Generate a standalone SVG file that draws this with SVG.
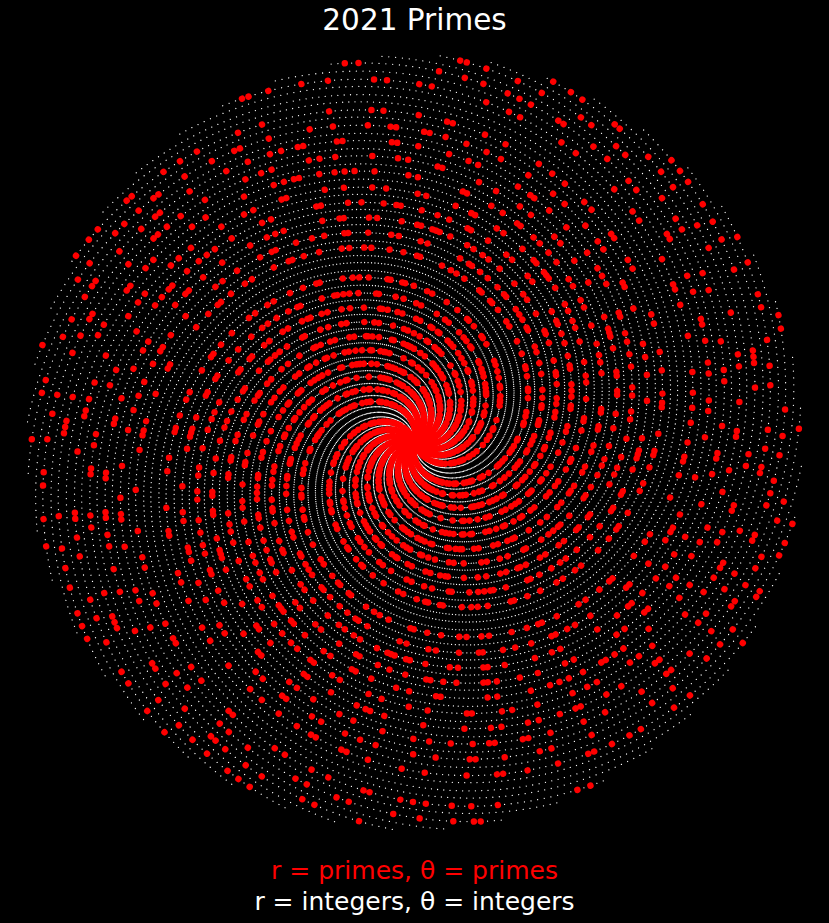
<svg xmlns="http://www.w3.org/2000/svg" xmlns:xlink="http://www.w3.org/1999/xlink" width="829" height="923" viewBox="0 0 829 923">
<style>
text{font-family:"DejaVu Sans","Liberation Sans",sans-serif;text-anchor:middle}
.w{fill:none;stroke:#fff;stroke-width:1.3;stroke-linecap:round;stroke-dasharray:0 1}
.r{fill:none;stroke:#f00;stroke-width:6.5;stroke-linecap:round}
.d1{stroke-dasharray:0 1 0 2 0 1 0 1 0 3 0 1 0 2 0 2 0 1 0 3}
.d2{stroke-dasharray:0 2 0 1 0 1 0 3 0 2 0 1 0 2 0 1 0 3 0 1}
.d3{stroke-dasharray:0 1 0 3 0 2 0 1 0 1 0 2 0 1 0 3 0 1 0 2}
.i1{stroke-dasharray:0 2 0 4 0 1 0 3 0 5 0 2 0 3 0 1 0 6}
.i2{stroke-dasharray:0 3 0 1 0 5 0 2 0 2 0 4 0 6 0 1 0 3 0 2}
.i3{stroke-dasharray:0 1 0 4 0 3 0 6 0 2 0 1 0 5 0 3 0 2 0 4}
.i4{stroke-dasharray:0 4 0 2 0 2 0 5 0 1 0 3 0 7 0 2 0 3}
.i5{stroke-dasharray:0 2 0 2 0 6 0 1 0 4 0 3 0 2 0 5 0 1 0 3 0 4}
.i6{stroke-dasharray:0 5 0 1 0 2 0 3 0 4 0 2 0 1 0 6 0 3 0 2}
.m1{stroke-dasharray:0 4 0 2 0 5 0 1 0 3 0 6 0 2 0 4 0 3}
.m2{stroke-dasharray:0 3 0 5 0 2 0 4 0 1 0 6 0 3 0 2 0 5}
.m3{stroke-dasharray:0 2 0 6 0 3 0 1 0 4 0 5 0 2 0 3 0 6}
.m4{stroke-dasharray:0 5 0 3 0 1 0 4 0 6 0 2 0 3 0 5 0 2}
.m5{stroke-dasharray:0 1 0 4 0 6 0 3 0 2 0 5 0 4 0 1 0 3 0 6}
.o1{stroke-dasharray:0 3 0 6 0 2 0 4 0 8 0 1 0 5 0 3 0 7 0 2 0 4}
.o2{stroke-dasharray:0 5 0 2 0 7 0 3 0 4 0 1 0 9 0 4 0 2 0 6}
.o3{stroke-dasharray:0 2 0 8 0 4 0 3 0 6 0 5 0 1 0 4 0 7 0 3}
.o4{stroke-dasharray:0 6 0 3 0 1 0 5 0 4 0 9 0 2 0 4 0 3 0 6 0 2}
.o5{stroke-dasharray:0 4 0 4 0 7 0 2 0 5 0 3 0 8 0 1 0 6 0 3}
.o6{stroke-dasharray:0 7 0 2 0 3 0 6 0 1 0 5 0 4 0 8 0 2 0 5 0 3}
.o7{stroke-dasharray:0 3 0 5 0 9 0 2 0 4 0 6 0 1 0 3 0 7 0 4}
</style>
<defs>
<g id="p0">
<path pathLength="10" stroke-dashoffset="0.5" d="M0 0C3.23 0 6.47-.58 9.55-1.71"/>
<path transform="rotate(-10.141)" pathLength="10" stroke-dashoffset="17.5" d="M9.7 0C12.93-.57 16.12-1.72 19.1-3.42"/>
<path transform="rotate(-20.282)" pathLength="10" stroke-dashoffset="5.5" d="M19.4 0C22.63-1.14 25.77-2.86 28.65-5.12"/>
<path transform="rotate(-30.422)" pathLength="10" stroke-dashoffset="29.5" d="M29.1 0C32.33-1.72 35.41-4.01 38.19-6.83"/>
<path transform="rotate(-40.563)" pathLength="10" stroke-dashoffset="11.5" d="M38.8 0C42.03-2.29 45.06-5.15 47.74-8.54"/>
</g>
<g id="pa">
<path transform="rotate(-50.704)" pathLength="10" stroke-dashoffset="23.5" d="M48.5 0C51.73-2.86 54.71-6.3 57.29-10.25"/>
<path transform="rotate(-60.845)" pathLength="10" stroke-dashoffset="3.5" d="M58.2 0C61.43-3.43 64.36-7.44 66.84-11.96"/>
<path transform="rotate(-70.986)" pathLength="10" stroke-dashoffset="31.5" d="M67.9 0C71.13-4.01 74.01-8.59 76.39-13.66"/>
<path transform="rotate(-81.126)" pathLength="10" stroke-dashoffset="14.5" d="M77.6 0C80.83-4.58 83.66-9.73 85.94-15.37"/>
<path transform="rotate(-91.267)" pathLength="10" stroke-dashoffset="8.5" d="M87.3 0C90.53-5.15 93.31-10.88 95.48-17.08"/>
<path transform="rotate(-101.408)" pathLength="10" stroke-dashoffset="26.5" d="M97 0C100.23-5.72 102.96-12.02 105.03-18.79"/>
<path transform="rotate(-111.549)" pathLength="10" stroke-dashoffset="19.5" d="M106.7 0C109.93-6.29 112.61-13.17 114.58-20.49"/>
</g>
<g id="pb">
<path transform="rotate(-121.69)" pathLength="10" stroke-dashoffset="2.5" d="M116.4 0C119.63-6.87 122.26-14.31 124.13-22.2"/>
<path transform="rotate(-131.83)" pathLength="10" stroke-dashoffset="35.5" d="M126.1 0C129.33-7.44 131.91-15.45 133.68-23.91"/>
<path transform="rotate(-141.971)" pathLength="10" stroke-dashoffset="12.5" d="M135.8 0C139.03-8.01 141.56-16.6 143.23-25.62"/>
<path transform="rotate(-152.112)" pathLength="10" stroke-dashoffset="27.5" d="M145.5 0C148.73-8.58 151.21-17.74 152.78-27.33"/>
<path transform="rotate(-162.253)" pathLength="10" stroke-dashoffset="6.5" d="M155.2 0C158.43-9.16 160.85-18.89 162.32-29.03"/>
<path transform="rotate(-172.394)" pathLength="10" stroke-dashoffset="33.5" d="M164.9 0C168.13-9.73 170.5-20.03 171.87-30.74"/>
<path transform="rotate(-182.534)" pathLength="10" stroke-dashoffset="21.5" d="M174.6 0C177.83-10.3 180.15-21.18 181.42-32.45"/>
<path transform="rotate(-192.675)" pathLength="10" stroke-dashoffset="9.5" d="M184.3 0C187.53-10.87 189.8-22.32 190.97-34.16"/>
<path transform="rotate(-202.816)" pathLength="10" stroke-dashoffset="15.5" d="M194 0C197.23-11.45 199.45-23.47 200.52-35.87"/>
<path transform="rotate(-212.957)" pathLength="10" stroke-dashoffset="30.5" d="M203.7 0C206.93-12.02 209.1-24.61 210.07-37.57"/>
<path transform="rotate(-223.098)" pathLength="10" stroke-dashoffset="4.5" d="M213.4 0C216.63-12.59 218.75-25.76 219.61-39.28"/>
<path transform="rotate(-233.238)" pathLength="10" stroke-dashoffset="24.5" d="M223.1 0C226.33-13.16 228.4-26.9 229.16-40.99"/>
<path transform="rotate(-243.379)" pathLength="10" stroke-dashoffset="36.5" d="M232.8 0C236.03-13.73 238.05-28.04 238.71-42.7"/>
</g>
<g id="pc">
<path transform="rotate(-253.52)" pathLength="10" stroke-dashoffset="10.5" d="M242.5 0C245.73-14.31 247.7-29.19 248.26-44.4"/>
<path transform="rotate(-263.661)" pathLength="10" stroke-dashoffset="18.5" d="M252.2 0C255.43-14.88 257.35-30.33 257.81-46.11"/>
<path transform="rotate(-273.802)" pathLength="10" stroke-dashoffset="1.5" d="M261.9 0C265.13-15.45 267-31.48 267.36-47.82"/>
<path transform="rotate(-283.942)" pathLength="10" stroke-dashoffset="28.5" d="M271.6 0C274.83-16.02 276.65-32.62 276.91-49.53"/>
<path transform="rotate(-294.083)" pathLength="10" stroke-dashoffset="13.5" d="M281.3 0C284.53-16.6 286.29-33.77 286.45-51.24"/>
<path transform="rotate(-304.224)" pathLength="10" stroke-dashoffset="34.5" d="M291 0C294.23-17.17 295.94-34.91 296-52.94"/>
<path transform="rotate(-314.365)" pathLength="10" stroke-dashoffset="7.5" d="M300.7 0C303.93-17.74 305.59-36.06 305.55-54.65"/>
<path transform="rotate(-324.506)" pathLength="10" stroke-dashoffset="22.5" d="M310.4 0C313.63-18.31 315.24-37.2 315.1-56.36"/>
<path transform="rotate(-334.646)" pathLength="10" stroke-dashoffset="16.5" d="M320.1 0C323.33-18.88 324.89-38.35 324.65-58.07"/>
<path transform="rotate(-344.787)" pathLength="10" stroke-dashoffset="32.5" d="M329.8 0C333.03-19.46 334.54-39.49 334.2-59.78"/>
<path transform="rotate(-354.928)" pathLength="10" stroke-dashoffset="25.5" d="M339.5 0C342.73-20.03 344.19-40.63 343.74-61.48"/>
<path transform="rotate(-365.069)" pathLength="10" stroke-dashoffset="20.5" d="M349.2 0C352.43-20.6 353.84-41.78 353.29-63.19"/>
<path transform="rotate(-375.21)" pathLength="10" stroke-dashoffset="38.5" d="M358.9 0C362.13-21.17 363.49-42.92 362.84-64.9"/>
<path transform="rotate(-385.35)" pathLength="10" stroke-dashoffset="11.5" d="M368.6 0C371.83-21.75 373.14-44.07 372.39-66.61"/>
<path transform="rotate(-395.491)" pathLength="10" stroke-dashoffset="3.5" d="M378.3 0C381.53-22.32 382.79-45.21 381.94-68.31"/>
</g>
<g id="sp"><use href="#p0"/><use href="#pa"/><use href="#pb"/><use href="#pc"/></g>
</defs>
<rect width="829" height="923" fill="#000"/>
<text x="414.5" y="30" font-size="29.5" fill="#fff">2021 Primes</text>
<g id="integers" class="w" transform="translate(414.5,442.5)">
<use href="#sp"/>
<use href="#sp" transform="rotate(-57.296)"/>
<use href="#sp" transform="rotate(-114.592)"/>
<use href="#sp" transform="rotate(-171.887)"/>
<use href="#sp" transform="rotate(-229.183)"/>
<use href="#sp" transform="rotate(-286.479)"/>
<use href="#sp" transform="rotate(-343.775)"/>
<use href="#sp" transform="rotate(-41.071)"/>
<use href="#sp" transform="rotate(-98.366)"/>
<use href="#sp" transform="rotate(-155.662)"/>
<use href="#sp" transform="rotate(-212.958)"/>
<use href="#sp" transform="rotate(-270.254)"/>
<use href="#sp" transform="rotate(-327.549)"/>
<use href="#sp" transform="rotate(-24.845)"/>
<use href="#sp" transform="rotate(-82.141)"/>
<use href="#sp" transform="rotate(-139.437)"/>
<use href="#sp" transform="rotate(-196.733)"/>
<use href="#sp" transform="rotate(-254.028)"/>
<use href="#sp" transform="rotate(-311.324)"/>
<use href="#sp" transform="rotate(-8.62)"/>
<use href="#sp" transform="rotate(-65.916)"/>
<use href="#sp" transform="rotate(-123.211)"/>
<use href="#sp" transform="rotate(-180.507)"/>
<use href="#sp" transform="rotate(-237.803)"/>
<use href="#sp" transform="rotate(-295.099)"/>
<use href="#sp" transform="rotate(-352.395)"/>
<use href="#sp" transform="rotate(-49.69)"/>
<use href="#sp" transform="rotate(-106.986)"/>
<use href="#sp" transform="rotate(-164.282)"/>
<use href="#sp" transform="rotate(-221.578)"/>
<use href="#sp" transform="rotate(-278.873)"/>
<use href="#sp" transform="rotate(-336.169)"/>
<use href="#sp" transform="rotate(-33.465)"/>
<use href="#sp" transform="rotate(-90.761)"/>
<use href="#sp" transform="rotate(-148.057)"/>
<use href="#sp" transform="rotate(-205.352)"/>
<use href="#sp" transform="rotate(-262.648)"/>
<use href="#sp" transform="rotate(-319.944)"/>
<use href="#sp" transform="rotate(-17.24)"/>
<use href="#sp" transform="rotate(-74.535)"/>
<use href="#sp" transform="rotate(-131.831)"/>
<use href="#sp" transform="rotate(-189.127)"/>
<use href="#sp" transform="rotate(-246.423)"/>
<use href="#sp" transform="rotate(-303.719)"/>
</g>
<g id="primes" class="r" transform="translate(414.5,442.5)">
<g transform="rotate(-57.296)"><use href="#p0" class="d1"/><use href="#pa" class="i1"/><use href="#pb" class="m1"/><use href="#pc" class="o1"/></g>
<g transform="rotate(-171.887)"><use href="#p0" class="d2"/><use href="#pa" class="i2"/><use href="#pb" class="m2"/><use href="#pc" class="o2"/></g>
<g transform="rotate(-286.479)"><use href="#p0" class="d3"/><use href="#pa" class="i3"/><use href="#pb" class="m3"/><use href="#pc" class="o3"/></g>
<g transform="rotate(-41.071)"><use href="#p0" class="d1"/><use href="#pa" class="i4"/><use href="#pb" class="m4"/><use href="#pc" class="o4"/></g>
<g transform="rotate(-155.662)"><use href="#p0" class="d2"/><use href="#pa" class="i5"/><use href="#pb" class="m5"/><use href="#pc" class="o5"/></g>
<g transform="rotate(-24.845)"><use href="#p0" class="d3"/><use href="#pa" class="i6"/><use href="#pb" class="m1"/><use href="#pc" class="o6"/></g>
<g transform="rotate(-139.437)"><use href="#p0" class="d1"/><use href="#pa" class="i1"/><use href="#pb" class="m2"/><use href="#pc" class="o7"/></g>
<g transform="rotate(-254.028)"><use href="#p0" class="d2"/><use href="#pa" class="i2"/><use href="#pb" class="m3"/><use href="#pc" class="o1"/></g>
<g transform="rotate(-8.62)"><use href="#p0" class="d3"/><use href="#pa" class="i3"/><use href="#pb" class="m4"/><use href="#pc" class="o2"/></g>
<g transform="rotate(-123.211)"><use href="#p0" class="d1"/><use href="#pa" class="i4"/><use href="#pb" class="m5"/><use href="#pc" class="o3"/></g>
<g transform="rotate(-237.803)"><use href="#p0" class="d2"/><use href="#pa" class="i5"/><use href="#pb" class="m1"/><use href="#pc" class="o4"/></g>
<g transform="rotate(-352.395)"><use href="#p0" class="d3"/><use href="#pa" class="i6"/><use href="#pb" class="m2"/><use href="#pc" class="o5"/></g>
<g transform="rotate(-106.986)"><use href="#p0" class="d1"/><use href="#pa" class="i1"/><use href="#pb" class="m3"/><use href="#pc" class="o6"/></g>
<g transform="rotate(-221.578)"><use href="#p0" class="d2"/><use href="#pa" class="i2"/><use href="#pb" class="m4"/><use href="#pc" class="o7"/></g>
<g transform="rotate(-336.169)"><use href="#p0" class="d3"/><use href="#pa" class="i3"/><use href="#pb" class="m5"/><use href="#pc" class="o1"/></g>
<g transform="rotate(-205.352)"><use href="#p0" class="d1"/><use href="#pa" class="i4"/><use href="#pb" class="m1"/><use href="#pc" class="o2"/></g>
<g transform="rotate(-319.944)"><use href="#p0" class="d2"/><use href="#pa" class="i5"/><use href="#pb" class="m2"/><use href="#pc" class="o3"/></g>
<g transform="rotate(-74.535)"><use href="#p0" class="d3"/><use href="#pa" class="i6"/><use href="#pb" class="m3"/><use href="#pc" class="o4"/></g>
<g transform="rotate(-189.127)"><use href="#p0" class="d1"/><use href="#pa" class="i1"/><use href="#pb" class="m4"/><use href="#pc" class="o5"/></g>
<g transform="rotate(-303.719)"><use href="#p0" class="d2"/><use href="#pa" class="i2"/><use href="#pb" class="m5"/><use href="#pc" class="o6"/></g>
</g>
<text x="414.5" y="879" font-size="25" fill="#f00">r = primes, θ = primes</text>
<text x="414.5" y="910" font-size="25" fill="#fff">r = integers, θ = integers</text>
</svg>
